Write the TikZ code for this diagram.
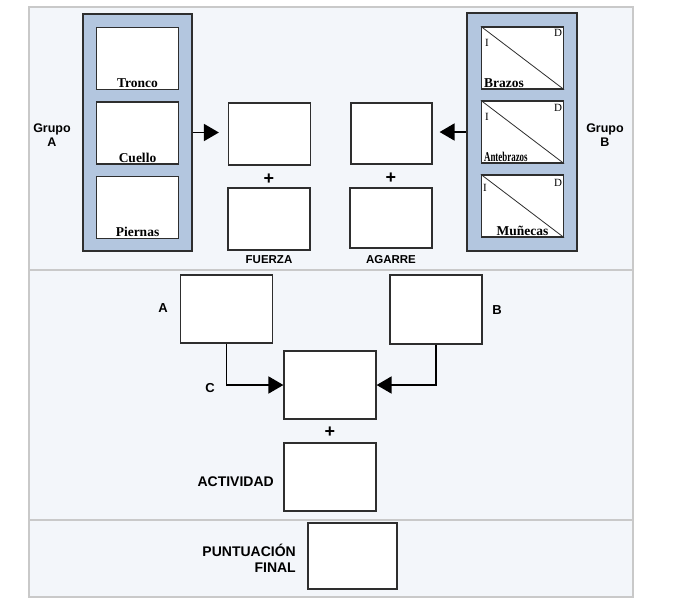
\documentclass[tikz,border=0pt]{standalone}
\usepackage{fontspec}
\setmainfont{Liberation Serif}
\setsansfont{Liberation Sans}
\usetikzlibrary{arrows.meta}
\definecolor{fondo}{HTML}{F3F6FA}
\definecolor{azulgrupo}{HTML}{B3C6DF}
\definecolor{borde}{HTML}{C9C9C9}
\definecolor{linea}{HTML}{2E2E2E}
\begin{document}
\begin{tikzpicture}[x=1pt,y=-1pt,
  caja/.style={draw=linea, line width=1.2pt, fill=white, inner sep=0pt, minimum width=82pt, minimum height=62pt},
  cajagrande/.style={caja, minimum width=92pt, minimum height=68pt},
  grupo/.style={draw=linea, line width=1.8pt, fill=azulgrupo, inner sep=0pt, minimum width=109pt, minimum height=237pt},
  flecha/.style={line width=1.8pt, -{Triangle[length=15pt,width=17pt]}},
  parte/.style={font=\bfseries\fontsize{13.5}{14}\selectfont, inner sep=1pt},
  lado/.style={font=\fontsize{11}{12}\selectfont, inner sep=0pt},
  etiq/.style={font=\sffamily\bfseries\fontsize{12.5}{14}\selectfont, align=center, inner sep=0pt},
  etiqm/.style={font=\sffamily\bfseries\fontsize{14}{16}\selectfont, inner sep=0pt},
  mas/.style={font=\sffamily\bfseries\fontsize{18}{18}\selectfont, inner sep=0pt}]
\useasboundingbox (0,0) rectangle (673,611);
\fill[fondo] (29,7) rectangle (633,597);
\draw[borde, line width=1.6pt] (29,7) rectangle (633,597);
\draw[borde, line width=1.6pt] (29,270) -- (633,270);
\draw[borde, line width=1.6pt] (29,520) -- (633,520);

% grupo A
\node[grupo] (grupoA) at (137.5,132.5) {};
\node[caja] (tronco) at (137.5,58.5) {};
\node[caja] (cuello) at (137.5,133) {};
\node[caja] (piernas) at (137.5,207.5) {};
\node[parte, above=1pt] (lblTronco) at (tronco.south) {Tronco};
\node[parte, above=1pt] (lblCuello) at (cuello.south) {Cuello};
\node[parte, above=1pt] (lblPiernas) at (piernas.south) {Piernas};
\node[etiq] (lblGrupoA) at (52,135) {Grupo\\A};

% grupo B
\node[grupo, minimum width=110pt, minimum height=238pt] (grupoB) at (522,132) {};
\node[caja] (brazos) at (522.5,58) {};
\node[caja] (antebrazos) at (522.5,132) {};
\node[caja] (munecas) at (522.5,206) {};
\draw[linea, line width=0.8pt] (brazos.north west) -- (brazos.south east);
\draw[linea, line width=0.8pt] (antebrazos.north west) -- (antebrazos.south east);
\draw[linea, line width=0.8pt] (munecas.north west) -- (munecas.south east);
\node[lado] (brazosI) at (487,43) {I};
\node[lado] (brazosD) at (558,33) {D};
\node[lado] (antebrazosI) at (487,117) {I};
\node[lado] (antebrazosD) at (558,108) {D};
\node[lado] (munecasI) at (485,188) {I};
\node[lado] (munecasD) at (558,183) {D};
\node[parte, anchor=south west, xshift=2pt, yshift=1pt] (lblBrazos) at (brazos.south west) {Brazos};
\node[parte, anchor=south west, xshift=2pt, yshift=1pt] (lblAntebrazos) at (antebrazos.south west) {\scalebox{0.66}[1]{Antebrazos}};
\node[parte, above=1pt] (lblMunecas) at (munecas.south) {Muñecas};
\node[etiq] (lblGrupoB) at (605,135) {Grupo\\B};

% tablas A y B
\node[caja] (tablaA) at (269.5,134) {};
\node[mas] (masA) at (269,179) {+};
\node[caja] (fuerza) at (269,219) {};
\node[etiq, font=\sffamily\bfseries\fontsize{11.5}{12}\selectfont] (lblFuerza) at (269,260) {FUERZA};
\node[caja, minimum width=81pt, minimum height=61pt] (tablaB) at (391.5,133.5) {};
\node[mas] (masB) at (391,178) {+};
\node[caja, minimum height=60pt] (agarre) at (391,218) {};
\node[etiq, font=\sffamily\bfseries\fontsize{11.5}{12}\selectfont] (lblAgarre) at (391,260) {AGARRE};
\draw[flecha, shorten >=9pt] (grupoA.east) -- (grupoA.east -| tablaA.west);
\draw[flecha, shorten >=7pt] (grupoB.west) -- (grupoB.west -| tablaB.east);

% tabla C
\node[cajagrande] (puntA) at (226.5,309) {};
\node[cajagrande, minimum height=69pt] (puntB) at (436,309.5) {};
\node[cajagrande] (puntC) at (330,385) {};
\node[etiq, font=\sffamily\bfseries\fontsize{13}{14}\selectfont] (lblA) at (163,308) {A};
\node[etiq, font=\sffamily\bfseries\fontsize{13}{14}\selectfont] (lblB) at (497,310) {B};
\node[etiq, font=\sffamily\bfseries\fontsize{13}{14}\selectfont] (lblC) at (210,388) {C};
\draw[flecha] (puntA.south) |- (puntC.west);
\draw[flecha] (puntB.south) |- (puntC.east);
\node[mas] (masC) at (330,432) {+};
\node[cajagrande] (actividad) at (330,477) {};
\node[etiqm, anchor=east] (lblActividad) at (274,482) {ACTIVIDAD};

% final
\node[caja, minimum width=89pt, minimum height=66pt] (final) at (352.5,556) {};
\node[etiqm, anchor=east, align=right] (lblFinal) at (296,558) {PUNTUACIÓN\\FINAL};
\end{tikzpicture}
\end{document}
